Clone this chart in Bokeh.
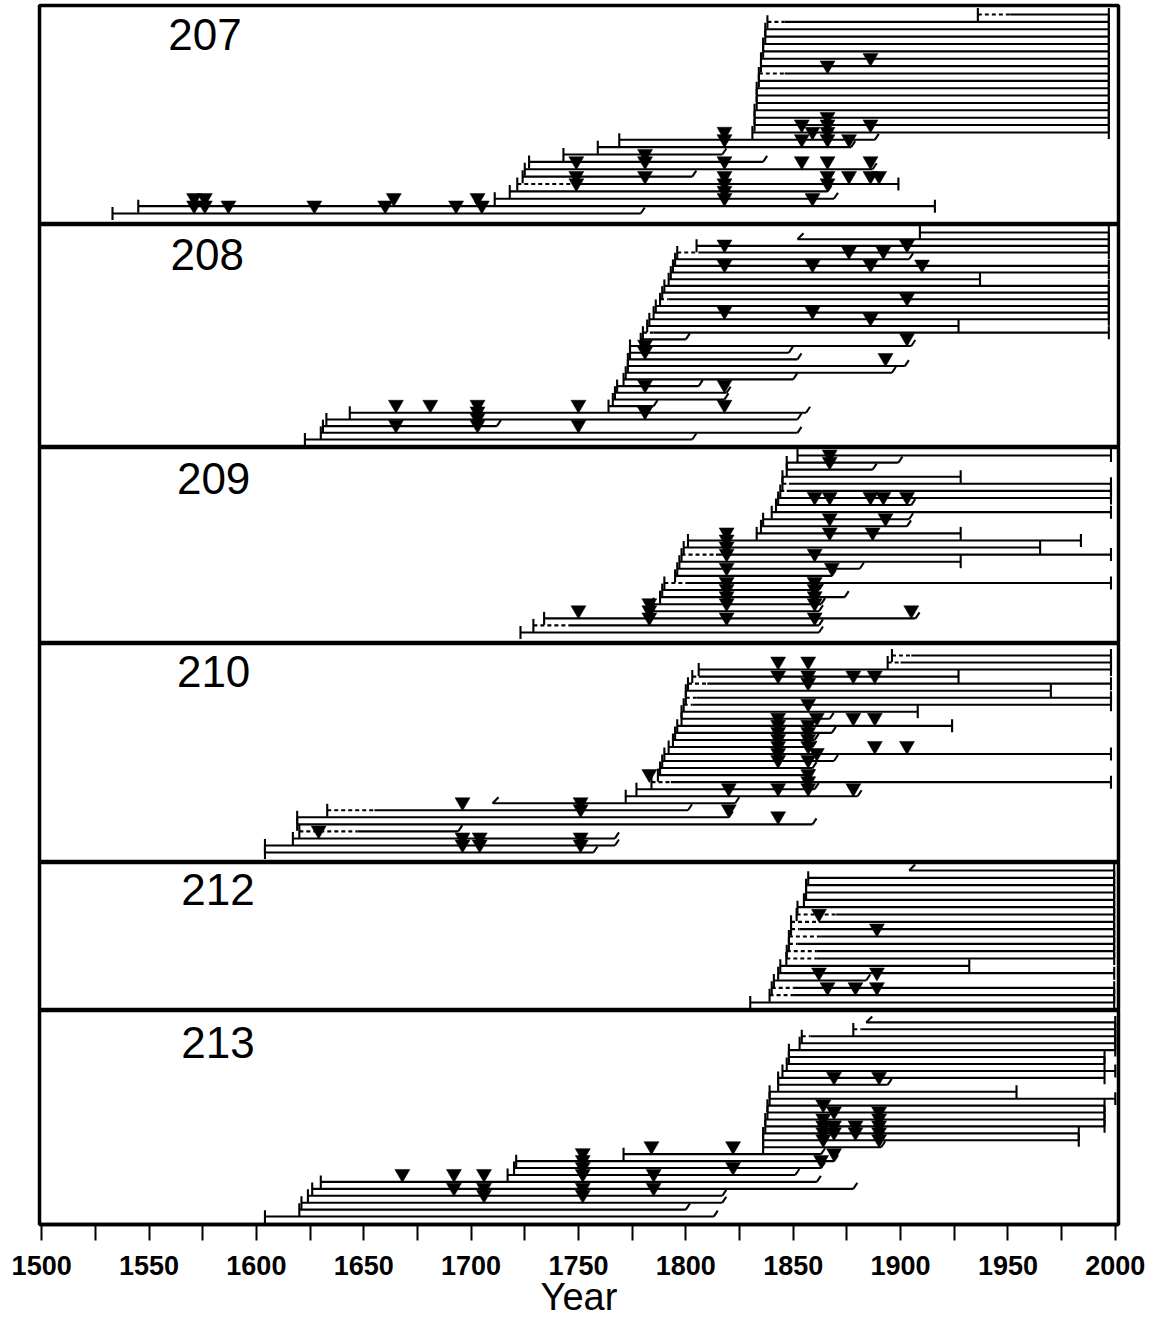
from bokeh.plotting import figure
from bokeh.layouts import column
from bokeh.models import Range1d, FixedTicker, Label
from bokeh.embed import file_html
from bokeh.resources import INLINE

# ---------------- data ----------------
# start type: p = pith (bar), i = inner ring (slant); end type: b = bark (bar), o = outer ring (slant)
P207_START = [1936, 1838, 1837, 1837, 1836, 1836, 1835, 1835, 1834, 1834, 1833, 1833, 1833, 1832,
              1832, 1832, 1831, 1769, 1759, 1743, 1727, 1725, 1724, 1721.5, 1718, 1711, 1545, 1533]
P207_STYPE = list("pppppppppppppppppppppppppppp")
P207_DASH = [1951, 1846, None, None, None, None, None, None, 1846, None, None, None, None, None,
             None, None, None, None, None, None, None, None, None, 1748, None, None, None, None]
P207_END = [1997, 1997, 1997, 1997, 1997, 1997, 1997, 1997, 1997, 1997, 1997, 1997, 1997, 1997,
            1997, 1997, 1997, 1888, 1877, 1817, 1836, 1887, 1803, 1899, 1866, 1869, 1916, 1779]
P207_ETYPE = ["b", "b", "b", "b", "b", "b", "b", "b", "b", "b", "b", "b", "b", "b",
              "b", "b", "b", "o", "o", "o", "o", "o", "o", "b", "o", "o", "b", "o"]
P207_SCARS = [[], [], [], [], [], [], [], [1886], [1866], [], [], [], [], [], [], [1866],
              [1854, 1866, 1886], [1818, 1859, 1866], [1818, 1854, 1866, 1876], [], [1781],
              [1749, 1781, 1818, 1854, 1866, 1886], [], [1749, 1781, 1818, 1866, 1876, 1886, 1890],
              [1749, 1818, 1866], [1818], [1571, 1576, 1664, 1703, 1818, 1859],
              [1571, 1576, 1587, 1627, 1660, 1693, 1705]]

P208_START = [1909, 1852, 1805, 1796, 1795, 1794, 1793, 1792, 1790, 1789, 1788, 1786, 1785, 1783,
              1782, 1780, 1779, 1774, 1774, 1773, 1773, 1772, 1771, 1768, 1767, 1766, 1764,
              1643.5, 1632.6, 1631, 1630, 1622.6]
P208_STYPE = list("pi" + "p" * 30)
P208_DASH = [None, None, None, 1806, None, None, None, None, None, None, 1792, None, None, None,
             None, 1785, None, None, None, None, None, None, None, None, None, None, None,
             None, None, None, None, None]
P208_END = [1997, 1997, 1997, 1997, 1904, 1997, 1997, 1937, 1997, 1997, 1997, 1997, 1997, 1997,
            1927, 1997, 1800, 1905, 1848, 1852, 1902, 1896, 1850, 1806, 1819, 1818, 1785,
            1856, 1852, 1712, 1852, 1803]
P208_ETYPE = list("bbbbobbbbbbbbbbb" + "o" * 16)
P208_SCARS = [[], [], [], [1818, 1903], [1876, 1892], [], [1818, 1859, 1886, 1910], [], [], [], [],
              [1903], [], [1818, 1859], [1886], [], [], [1903], [1781], [1781], [1893], [], [],
              [], [1781, 1818], [], [], [1665, 1681, 1703, 1750, 1818], [1703, 1781], [1703],
              [1665, 1703, 1750], []]

P209_START = [1852, 1847, 1847, 1845, 1845, 1844, 1843, 1842, 1840, 1836, 1835, 1833, 1801, 1799,
              1798, 1797, 1796, 1795, 1790, 1789, 1788, 1785, 1784, 1734, 1729, 1723]
P209_STYPE = list("p" * 26)
P209_DASH = [None, None, None, None, 1848, 1847, None, None, None, None, None, None, None, None,
             1814, None, None, None, 1801, None, None, None, None, None, 1747, None]
P209_END = [1998, 1899, 1887, 1928, 1998, 1998, 1998, 1905, 1998, 1904, 1903, 1928, 1984, 1965,
            1998, 1928, 1881, 1868, 1998, 1862, 1874, 1863, 1862, 1907, 1862, 1862]
P209_ETYPE = ["b", "o", "o", "b", "b", "b", "b", "o", "b", "o", "o", "b", "b", "b",
              "b", "b", "o", "o", "b", "o", "o", "o", "o", "o", "o", "o"]
P209_SCARS = [[], [1867], [1867], [], [], [], [], [1860, 1867, 1886, 1892, 1903], [], [],
              [1867, 1893], [], [1819, 1867, 1887], [1819], [1819], [1819, 1860], [], [1819, 1868],
              [], [1819, 1860], [1819, 1860], [1819, 1860], [1783, 1819, 1860], [1750, 1783, 1905],
              [1783, 1819, 1860], []]

P210_START = [1896, 1894, 1806, 1803, 1801, 1800, 1800, 1799, 1798, 1798, 1796, 1795, 1794, 1792,
              1790, 1789, 1788, 1787, 1784, 1777, 1772, 1710, 1633, 1619, 1619, 1620, 1617, 1604, 1604]
P210_STYPE = list("p" * 21 + "i" + "p" * 7)
P210_DASH = [1905, 1900, None, 1806, 1810, None, 1805, 1803, None, None, None, None, None, None,
             None, None, None, None, 1793, None, None, None, 1655, None, None, 1647, None, None, None]
P210_END = [1998, 1998, 1998, 1927, 1998, 1970, 1998, 1998, 1908, 1867, 1924, 1868, 1860, 1859,
            1998, 1869, 1859, 1858, 1998, 1860, 1880, 1823, 1801, 1820, 1859, 1694, 1767, 1767, 1757]
P210_ETYPE = list("bbbbbbbbbobooobooobooooooooo" + "o")
P210_SCARS = [[], [], [1843, 1857], [], [1843, 1857, 1878, 1888], [1857], [], [], [1857], [],
              [1843, 1861, 1878, 1888], [1843, 1857], [1843, 1857], [1843, 1857],
              [1843, 1857, 1888, 1903], [1843, 1861], [1843, 1857], [], [1783, 1857], [1857],
              [1820, 1843, 1857, 1878], [], [1696, 1751], [1751, 1820], [1843], [], [1629],
              [1696, 1704, 1751], [1696, 1704, 1751]]

P212_START = [1904, 1857, 1856, 1856, 1855, 1852, 1851.6, 1849, 1849, 1848, 1848, 1847, 1846.8,
              1844, 1843, 1841, 1840, 1839, 1830]
P212_STYPE = list("i" + "p" * 18)
P212_DASH = [None, None, None, None, None, None, 1870, 1862, 1853, 1863, 1852, 1861, 1861, None,
             None, None, 1850, 1850, None]
P212_END = [1999.5, 1999.5, 1999.5, 1999.5, 1999.5, 1999.5, 1999.5, 1999.5, 1999.5, 1999.5,
            1999.5, 1999.5, 1999.5, 1932, 1999.5, 1884, 1999.5, 1999.5, 1999.5]
P212_ETYPE = list("b" * 15 + "o" + "bbb")
P212_SCARS = [[], [], [], [], [], [], [], [1862], [], [1889], [], [], [], [], [], [1862, 1889], [],
              [1866, 1879, 1889], []]

P213_START = [1884, 1878, 1854, 1853, 1848, 1848, 1847, 1845, 1843, 1843, 1839, 1839, 1838, 1838,
              1837, 1837, 1836, 1836, 1836, 1771, 1721, 1720, 1717, 1630, 1626, 1624, 1621, 1620, 1604]
P213_STYPE = list("i" + "p" * 28)
P213_DASH = [None, 1882, 1858, None, None, None, None, None, None, None, None, None, None, None,
             None, None, None, None, None, None, None, None, None, None, None, None, None, None, None]
P213_END = [2000, 2000, 2000, 2000, 2000, 1995, 1995, 2000, 1995, 1894, 1954, 2000, 1995, 1995,
            1995, 1995, 1983, 1983, 1891, 1863, 1869, 1863, 1851, 1861, 1878, 1817, 1817, 1800, 1813]
P213_ETYPE = list("bbbbbbbbbobbbbbbbbooooooooooo")
P213_SCARS = [[], [], [], [], [], [], [], [], [], [1869, 1890], [], [], [], [1864], [1869, 1890],
              [1864, 1890], [1864, 1869, 1879, 1890], [1864, 1869, 1879, 1890], [1864, 1890],
              [1784, 1822], [1752, 1869], [1752, 1863], [1752, 1822],
              [1668, 1692, 1706, 1752, 1785], [], [1692, 1706, 1752, 1785], [1706, 1752], [], []]

AXIS_TICKS = [1500, 1550, 1600, 1650, 1700, 1750, 1800, 1850, 1900, 1950, 2000]
AXIS_MINOR = [1525, 1575, 1625, 1675, 1725, 1775, 1825, 1875, 1925, 1975]

PANELS = [
    ("207", P207_START, P207_STYPE, P207_DASH, P207_END, P207_ETYPE, P207_SCARS),
    ("208", P208_START, P208_STYPE, P208_DASH, P208_END, P208_ETYPE, P208_SCARS),
    ("209", P209_START, P209_STYPE, P209_DASH, P209_END, P209_ETYPE, P209_SCARS),
    ("210", P210_START, P210_STYPE, P210_DASH, P210_END, P210_ETYPE, P210_SCARS),
    ("212", P212_START, P212_STYPE, P212_DASH, P212_END, P212_ETYPE, P212_SCARS),
    ("213", P213_START, P213_STYPE, P213_DASH, P213_END, P213_ETYPE, P213_SCARS),
]
# layout: frame height, top margin, bottom margin (px), label x (year), label drop (px)
LAYOUT = [(219, 9, 11, 1559, 13), (223, 8, 8, 1560, 14), (196, 8, 11, 1563, 15),
          (219, 12, 10, 1563, 12), (148, 8, 8, 1565, 11), (216, 12, 8, 1565, 17)]

W = 1161
ML, MR = 39, 43
XR = (1499, 2001.5)
XPX = (XR[1] - XR[0]) / (W - ML - MR)   # years per pixel
LW = 2.1
TOP_PAD = 5
AXIS_H = 94

figs = []
for idx, (panel, layout) in enumerate(zip(PANELS, LAYOUT)):
    name, start, stype, dash, end, etype, scars = panel
    fh, tm, bm, labx, drop = layout
    first = idx == 0
    last = idx == len(PANELS) - 1
    n = len(start)
    s = (fh - tm - bm) / (n - 1)      # px per row
    ypx = 1.0 / s                      # data units per px
    y0 = -(n - 1) - bm * ypx
    y1 = tm * ypx
    p = figure(width=W, height=fh + (TOP_PAD if first else 0) + (AXIS_H if last else 0),
               x_range=Range1d(*XR), y_range=Range1d(y0, y1),
               x_axis_type="linear" if last else None, y_axis_type=None,
               output_backend="svg", toolbar_location=None,
               min_border_left=ML, min_border_right=MR,
               min_border_top=TOP_PAD if first else 0,
               min_border_bottom=AXIS_H if last else 0)
    p.background_fill_color = "white"
    p.border_fill_color = "white"
    p.outline_line_color = "black"
    p.outline_line_width = 3.5
    p.outline_line_alpha = 1.0

    ys = [-k for k in range(n)]
    # solid parts
    sx0 = [d if d is not None else st for st, d in zip(start, dash)]
    p.segment(x0=sx0, y0=ys, x1=end, y1=ys, line_color="black", line_width=LW)
    # dashed parts
    dk = [k for k in range(n) if dash[k] is not None]
    if dk:
        p.segment(x0=[start[k] for k in dk], y0=[ys[k] for k in dk],
                  x1=[dash[k] for k in dk], y1=[ys[k] for k in dk],
                  line_color="black", line_width=LW, line_dash="4 3")
    # pith bars / bark bars
    bx, by0, by1 = [], [], []
    for k in range(n):
        if stype[k] == "p":
            bx.append(start[k]); by0.append(ys[k] - 6.5 * ypx); by1.append(ys[k] + 6.5 * ypx)
        if etype[k] == "b":
            bx.append(end[k]); by0.append(ys[k] - 6.5 * ypx); by1.append(ys[k] + 6.5 * ypx)
    p.segment(x0=bx, y0=by0, x1=bx, y1=by1, line_color="black", line_width=LW)
    # slanted inner / outer ring marks
    hx0, hy0, hx1, hy1 = [], [], [], []
    for k in range(n):
        if stype[k] == "i":
            hx0.append(start[k]); hy0.append(ys[k])
            hx1.append(start[k] + 6 * XPX); hy1.append(ys[k] + 6 * ypx)
        if etype[k] == "o":
            hx0.append(end[k]); hy0.append(ys[k])
            hx1.append(end[k] + 4 * XPX); hy1.append(ys[k] + 6 * ypx)
    if hx0:
        p.segment(x0=hx0, y0=hy0, x1=hx1, y1=hy1, line_color="black", line_width=LW)
    # fire scars
    fx, fy = [], []
    for k in range(n):
        for yr in scars[k]:
            fx.append(yr); fy.append(ys[k] + 8.2 * ypx)
    p.scatter(x=fx, y=fy, marker="inverted_triangle", size=15,
              fill_color="black", line_color="black", line_width=0.5)

    p.add_layout(Label(x=labx, y=y1 - drop * ypx, text=name, text_font="Liberation Sans",
                       text_font_size="44px", text_baseline="top", text_align="left",
                       text_color="black"))

    if last:
        ax = p.xaxis[0]
        ax.ticker = FixedTicker(ticks=AXIS_TICKS, minor_ticks=AXIS_MINOR)
        ax.axis_line_width = 3.5
        ax.axis_line_color = "black"
        ax.major_tick_in = 0
        ax.major_tick_out = 16
        ax.minor_tick_in = 0
        ax.minor_tick_out = 16
        ax.major_tick_line_width = 2
        ax.minor_tick_line_width = 2
        ax.major_tick_line_color = "black"
        ax.minor_tick_line_color = "black"
        ax.major_label_text_font = "Liberation Sans"
        ax.major_label_text_font_size = "27px"
        ax.major_label_text_font_style = "bold"
        ax.major_label_text_color = "black"
        ax.major_label_standoff = 15
        ax.axis_label = "Year"
        ax.axis_label_text_font = "Liberation Sans"
        ax.axis_label_text_font_size = "38px"
        ax.axis_label_text_font_style = "normal"
        ax.axis_label_text_color = "black"
        ax.axis_label_standoff = -2
        p.xgrid.visible = False
    figs.append(p)

layout = column(*figs, spacing=0)
open("out.html", "w").write(file_html(layout, INLINE))
